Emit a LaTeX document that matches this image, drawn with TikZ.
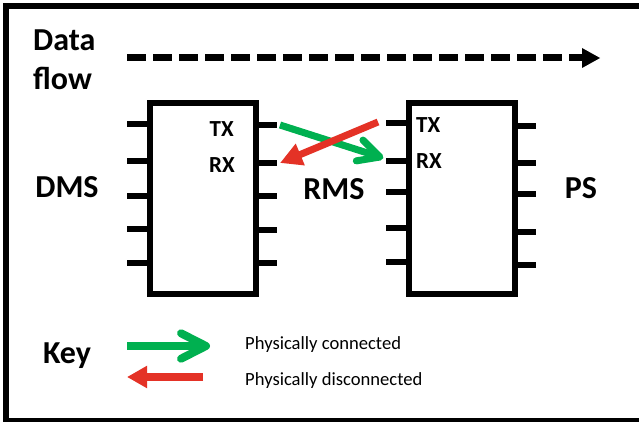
\documentclass[tikz,border=0pt]{standalone}
\usepackage{fontspec}
\setmainfont{Carlito}
\usetikzlibrary{arrows.meta,calc}
\definecolor{okgreen}{RGB}{0,176,80}
\definecolor{badred}{RGB}{228,50,38}
\begin{document}
\begin{tikzpicture}[x=1pt,y=-1pt,
  frame/.style={line width=6pt},
  chip/.style={draw,line width=6pt,minimum width=106pt,minimum height=191pt,inner sep=0pt,outer sep=0pt},
  pin/.style={line width=6pt},
  big/.style={font=\fontsize{32}{38}\selectfont\bfseries,inner sep=0pt},
  pinlabel/.style={font=\fontsize{23}{27}\selectfont\bfseries,inner sep=0pt},
  keytext/.style={font=\fontsize{18.6}{22}\selectfont,inner sep=0pt,anchor=base west},
  goodarrow/.style={draw=okgreen,line width=7pt},
  barb/.style={draw=okgreen,line width=7pt,line cap=round,line join=round},
  badarrow/.style={draw=badred,line width=7pt,-{Triangle[length=22pt,width=22pt]}},
]
\useasboundingbox (0,0) rectangle (639,422);
\fill[white] (0,0) rectangle (639,422);
% frame (open on the right)
\draw[frame] (645,6) -- (6,6) -- (6,421) -- (645,421);

% data flow
\node[big,anchor=base west] (data) at (33,51) {Data};
\node[big,anchor=base west] (flow) at (33,90) {flow};
\coordinate (dfs) at (127,58);
\coordinate (dfe) at (582,58);
\coordinate (dft) at (600,58);
\draw[line width=7pt,dash pattern=on 19pt off 7pt] (dfs) -- (dfe);
\fill ($(dfe)+(0,-10)$) -- (dft) -- ($(dfe)+(0,10)$) -- cycle;

% chips
\node[chip] (chipL) at (203,198.5) {};
\node[chip] (chipR) at (462,198.5) {};
\foreach \y in {124,161,196,229,263} \draw[pin] (150,\y) -- (127,\y);
\foreach \y in {125,163,196,230,263} \draw[pin] (256,\y) -- (277,\y);
\foreach \y in {123,161,192,228,262} \draw[pin] (409,\y) -- (386,\y);
\foreach \y in {126,163,194,232,265} \draw[pin] (515,\y) -- (536,\y);

\node[pinlabel,anchor=base east] (ltx) at (234,137) {TX};
\node[pinlabel,anchor=base east] (lrx) at (235,172) {RX};
\node[pinlabel,anchor=base west] (rtx) at (416,133) {TX};
\node[pinlabel,anchor=base west] (rrx) at (416,168) {RX};

\node[big,anchor=base] (dmsl) at (67,197) {DMS};
\node[big,anchor=base] (rmsl) at (334,199) {RMS};
\node[big,anchor=base] (psl) at (581,198) {PS};

% connection arrows
\coordinate (gs) at (280,125);
\coordinate (ge) at (380,157);
\draw[goodarrow] (gs) -- (ge);
\draw[barb] ($(ge)!24pt!27:(gs)$) -- (ge) -- ($(ge)!24pt!-27:(gs)$);
\coordinate (rs) at (378,122);
\coordinate (re) at (280,163);
\draw[badarrow] (rs) -- (re);

% key
\node[big,anchor=base] (key) at (67,363) {Key};
\coordinate (kgs) at (127,346);
\coordinate (kge) at (206,346);
\draw[goodarrow,line width=8pt] (kgs) -- (kge);
\draw[barb,line width=8pt] ($(kge)!28pt!27:(kgs)$) -- (kge) -- ($(kge)!28pt!-27:(kgs)$);
\coordinate (krs) at (203,377);
\coordinate (kre) at (127,377);
\draw[badarrow,line width=8pt,-{Triangle[length=20pt,width=21pt]}] (krs) -- (kre);
\node[keytext] (kt1) at (245,349) {Physically connected};
\node[keytext] (kt2) at (245,385) {Physically disconnected};
\end{tikzpicture}
\end{document}
